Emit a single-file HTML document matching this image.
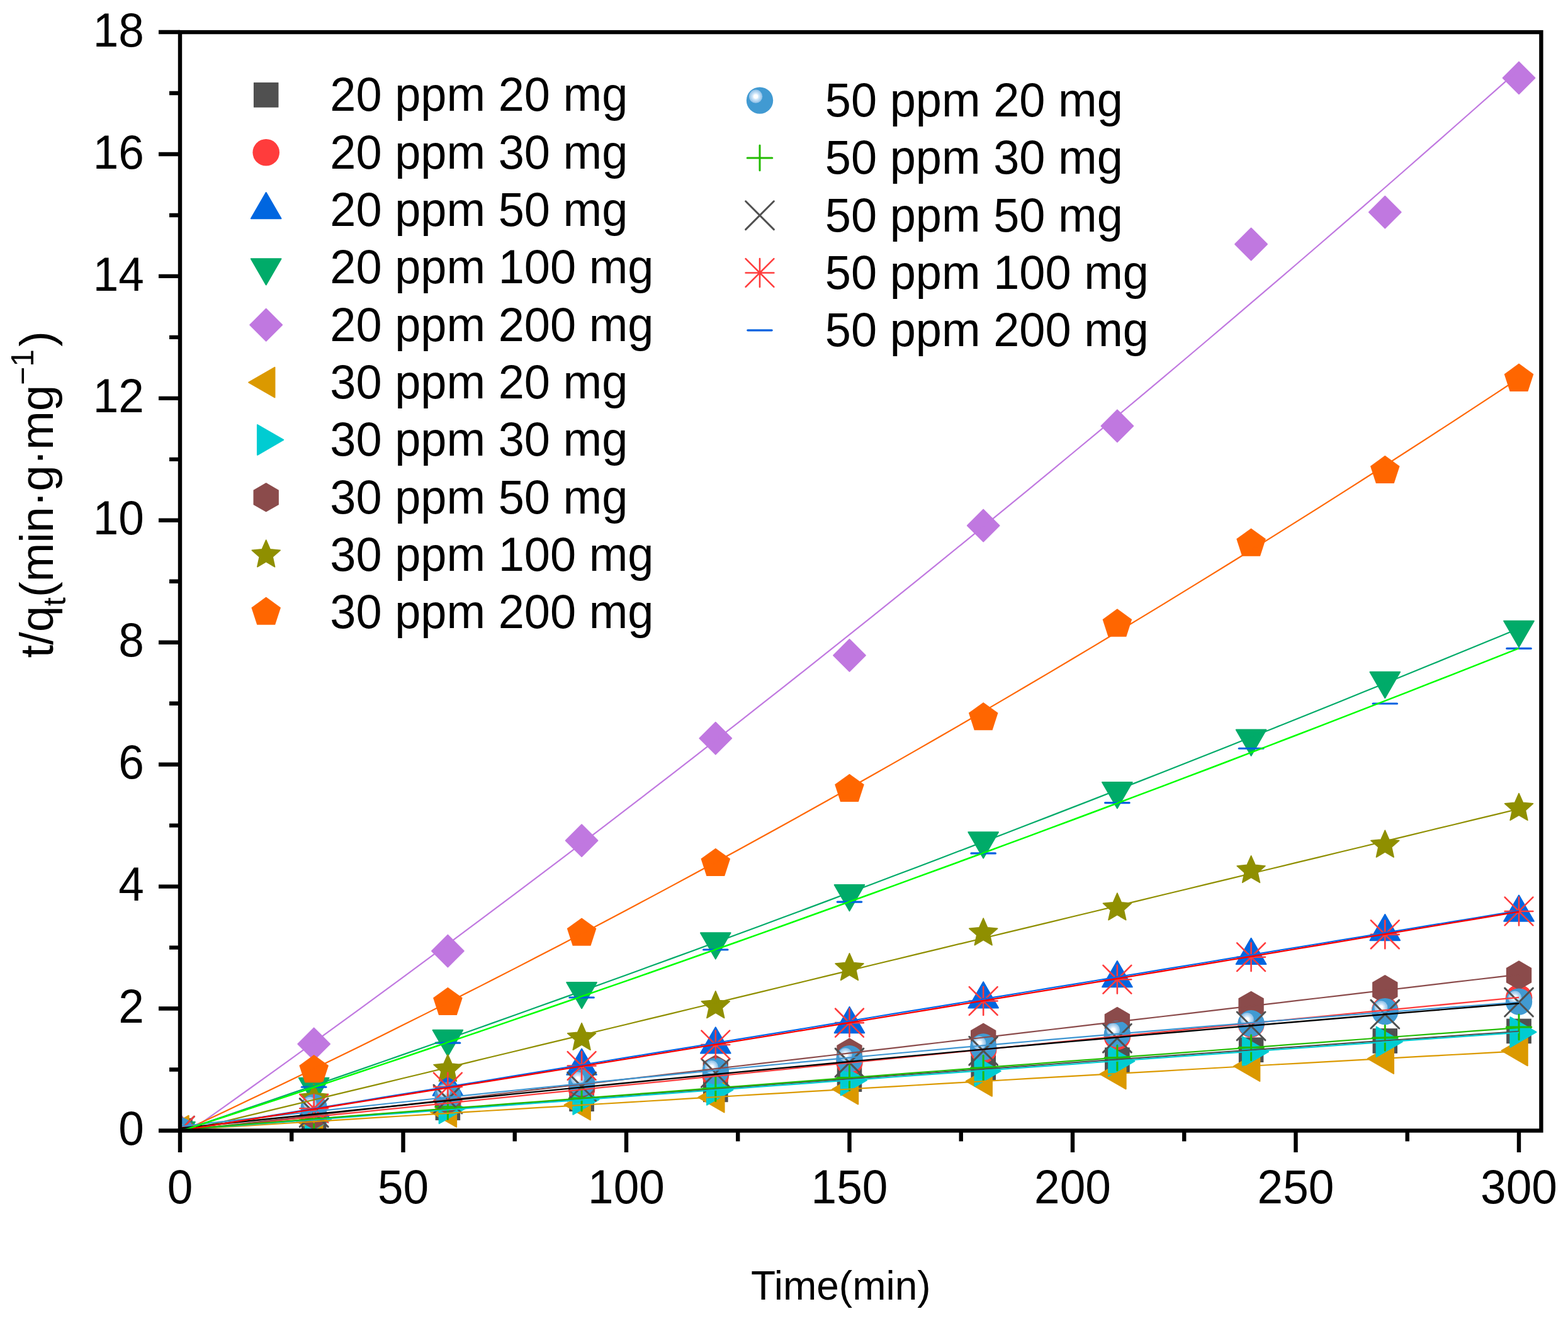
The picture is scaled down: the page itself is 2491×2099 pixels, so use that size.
<!DOCTYPE html>
<html><head><meta charset="utf-8"><title>t/qt vs Time</title>
<style>
html,body{margin:0;padding:0;background:#fff;}
body{width:2491px;height:2099px;overflow:hidden;}
svg{display:block;}
text{font-family:'Liberation Sans', Arial, Helvetica, sans-serif;fill:#000;}
</style></head><body>
<svg width="2491" height="2099" viewBox="0 0 2491 2099">
<defs>
<clipPath id="plot"><rect x="286.0" y="51.1" width="2162.4" height="1745.4"/></clipPath>
<radialGradient id="sph" cx="0.5" cy="0.5" r="0.5" fx="0.35" fy="0.34">
<stop offset="0" stop-color="#FFFFFF"/>
<stop offset="0.07" stop-color="#FFFFFF"/>
<stop offset="0.12" stop-color="#D6E8F6"/>
<stop offset="0.22" stop-color="#B5D5EE"/>
<stop offset="0.30" stop-color="#8EC0E6"/>
<stop offset="0.36" stop-color="#5AA2DA"/>
<stop offset="0.45" stop-color="#4596CF"/>
<stop offset="1" stop-color="#4596CF"/>
</radialGradient>
</defs>
<rect width="2491" height="2099" fill="#fff"/>

<g clip-path="url(#plot)">
<g><rect x="266.75" y="1777.25" width="38.5" height="38.5" fill="#505050" stroke="#474747" stroke-width="1"/><rect x="479.45" y="1757.86" width="38.5" height="38.5" fill="#505050" stroke="#474747" stroke-width="1"/><rect x="692.15" y="1741.08" width="38.5" height="38.5" fill="#505050" stroke="#474747" stroke-width="1"/><rect x="904.85" y="1727.02" width="38.5" height="38.5" fill="#505050" stroke="#474747" stroke-width="1"/><rect x="1117.55" y="1712.18" width="38.5" height="38.5" fill="#505050" stroke="#474747" stroke-width="1"/><rect x="1330.25" y="1695.8" width="38.5" height="38.5" fill="#505050" stroke="#474747" stroke-width="1"/><rect x="1542.95" y="1677.47" width="38.5" height="38.5" fill="#505050" stroke="#474747" stroke-width="1"/><rect x="1755.65" y="1664.96" width="38.5" height="38.5" fill="#505050" stroke="#474747" stroke-width="1"/><rect x="1968.35" y="1648.96" width="38.5" height="38.5" fill="#505050" stroke="#474747" stroke-width="1"/><rect x="2181.05" y="1634.7" width="38.5" height="38.5" fill="#505050" stroke="#474747" stroke-width="1"/><rect x="2393.75" y="1619.19" width="38.5" height="38.5" fill="#505050" stroke="#474747" stroke-width="1"/></g>
<g><circle cx="286" cy="1796.5" r="21.3" fill="#FF3C3C"/><circle cx="498.7" cy="1773.23" r="21.3" fill="#FF3C3C"/><circle cx="711.4" cy="1751.89" r="21.3" fill="#FF3C3C"/><circle cx="924.1" cy="1730.56" r="21.3" fill="#FF3C3C"/><circle cx="1136.8" cy="1709.23" r="21.3" fill="#FF3C3C"/><circle cx="1349.5" cy="1687.89" r="21.3" fill="#FF3C3C"/><circle cx="1562.2" cy="1668.01" r="21.3" fill="#FF3C3C"/><circle cx="1774.9" cy="1647.07" r="21.3" fill="#FF3C3C"/><circle cx="1987.6" cy="1627.29" r="21.3" fill="#FF3C3C"/><circle cx="2200.3" cy="1604.98" r="21.3" fill="#FF3C3C"/><circle cx="2413" cy="1585.59" r="21.3" fill="#FF3C3C"/></g>
<g><polygon points="286,1769 309.82,1810.25 262.18,1810.25" fill="#0066E0" stroke="#0066E0" stroke-width="2.0" stroke-linejoin="round"/><polygon points="498.7,1734.09 522.52,1775.34 474.88,1775.34" fill="#0066E0" stroke="#0066E0" stroke-width="2.0" stroke-linejoin="round"/><polygon points="711.4,1699.38 735.22,1740.63 687.58,1740.63" fill="#0066E0" stroke="#0066E0" stroke-width="2.0" stroke-linejoin="round"/><polygon points="924.1,1666.5 947.92,1707.75 900.28,1707.75" fill="#0066E0" stroke="#0066E0" stroke-width="2.0" stroke-linejoin="round"/><polygon points="1136.8,1632.27 1160.62,1673.52 1112.98,1673.52" fill="#0066E0" stroke="#0066E0" stroke-width="2.0" stroke-linejoin="round"/><polygon points="1349.5,1599.88 1373.32,1641.13 1325.68,1641.13" fill="#0066E0" stroke="#0066E0" stroke-width="2.0" stroke-linejoin="round"/><polygon points="1562.2,1560.22 1586.02,1601.47 1538.38,1601.47" fill="#0066E0" stroke="#0066E0" stroke-width="2.0" stroke-linejoin="round"/><polygon points="1774.9,1527.06 1798.72,1568.31 1751.08,1568.31" fill="#0066E0" stroke="#0066E0" stroke-width="2.0" stroke-linejoin="round"/><polygon points="1987.6,1490.79 2011.42,1532.04 1963.78,1532.04" fill="#0066E0" stroke="#0066E0" stroke-width="2.0" stroke-linejoin="round"/><polygon points="2200.3,1452.97 2224.12,1494.22 2176.48,1494.22" fill="#0066E0" stroke="#0066E0" stroke-width="2.0" stroke-linejoin="round"/><polygon points="2413,1422.62 2436.82,1463.87 2389.18,1463.87" fill="#0066E0" stroke="#0066E0" stroke-width="2.0" stroke-linejoin="round"/></g>
<g><polygon points="286,1824 262.18,1782.75 309.82,1782.75" fill="#00AB69" stroke="#00AB69" stroke-width="2.0" stroke-linejoin="round"/><polygon points="498.7,1754.08 474.88,1712.83 522.52,1712.83" fill="#00AB69" stroke="#00AB69" stroke-width="2.0" stroke-linejoin="round"/><polygon points="711.4,1678.06 687.58,1636.81 735.22,1636.81" fill="#00AB69" stroke="#00AB69" stroke-width="2.0" stroke-linejoin="round"/><polygon points="924.1,1602.23 900.28,1560.98 947.92,1560.98" fill="#00AB69" stroke="#00AB69" stroke-width="2.0" stroke-linejoin="round"/><polygon points="1136.8,1523.59 1112.98,1482.34 1160.62,1482.34" fill="#00AB69" stroke="#00AB69" stroke-width="2.0" stroke-linejoin="round"/><polygon points="1349.5,1447.37 1325.68,1406.12 1373.32,1406.12" fill="#00AB69" stroke="#00AB69" stroke-width="2.0" stroke-linejoin="round"/><polygon points="1562.2,1363.39 1538.38,1322.14 1586.02,1322.14" fill="#00AB69" stroke="#00AB69" stroke-width="2.0" stroke-linejoin="round"/><polygon points="1774.9,1284.17 1751.08,1242.92 1798.72,1242.92" fill="#00AB69" stroke="#00AB69" stroke-width="2.0" stroke-linejoin="round"/><polygon points="1987.6,1200.77 1963.78,1159.52 2011.42,1159.52" fill="#00AB69" stroke="#00AB69" stroke-width="2.0" stroke-linejoin="round"/><polygon points="2200.3,1109.04 2176.48,1067.79 2224.12,1067.79" fill="#00AB69" stroke="#00AB69" stroke-width="2.0" stroke-linejoin="round"/><polygon points="2413,1027.88 2389.18,986.63 2436.82,986.63" fill="#00AB69" stroke="#00AB69" stroke-width="2.0" stroke-linejoin="round"/></g>
<g><polygon points="286,1771 311.5,1796.5 286,1822 260.5,1796.5" fill="#C078E0" stroke="#C078E0" stroke-width="1.8" stroke-linejoin="round"/><polygon points="498.7,1633.3 524.2,1658.8 498.7,1684.3 473.2,1658.8" fill="#C078E0" stroke="#C078E0" stroke-width="1.8" stroke-linejoin="round"/><polygon points="711.4,1485.52 736.9,1511.02 711.4,1536.52 685.9,1511.02" fill="#C078E0" stroke="#C078E0" stroke-width="1.8" stroke-linejoin="round"/><polygon points="924.1,1310.1 949.6,1335.6 924.1,1361.1 898.6,1335.6" fill="#C078E0" stroke="#C078E0" stroke-width="1.8" stroke-linejoin="round"/><polygon points="1136.8,1147.68 1162.3,1173.18 1136.8,1198.68 1111.3,1173.18" fill="#C078E0" stroke="#C078E0" stroke-width="1.8" stroke-linejoin="round"/><polygon points="1349.5,1015.8 1375,1041.3 1349.5,1066.8 1324,1041.3" fill="#C078E0" stroke="#C078E0" stroke-width="1.8" stroke-linejoin="round"/><polygon points="1562.2,809.54 1587.7,835.04 1562.2,860.54 1536.7,835.04" fill="#C078E0" stroke="#C078E0" stroke-width="1.8" stroke-linejoin="round"/><polygon points="1774.9,651.29 1800.4,676.79 1774.9,702.29 1749.4,676.79" fill="#C078E0" stroke="#C078E0" stroke-width="1.8" stroke-linejoin="round"/><polygon points="1987.6,362.51 2013.1,388.01 1987.6,413.51 1962.1,388.01" fill="#C078E0" stroke="#C078E0" stroke-width="1.8" stroke-linejoin="round"/><polygon points="2200.3,311.6 2225.8,337.1 2200.3,362.6 2174.8,337.1" fill="#C078E0" stroke="#C078E0" stroke-width="1.8" stroke-linejoin="round"/><polygon points="2413,98.27 2438.5,123.77 2413,149.27 2387.5,123.77" fill="#C078E0" stroke="#C078E0" stroke-width="1.8" stroke-linejoin="round"/></g>
<g><polygon points="258.5,1796.5 299.75,1772.68 299.75,1820.32" fill="#DB9900" stroke="#DB9900" stroke-width="2.0" stroke-linejoin="round"/><polygon points="471.2,1781.95 512.45,1758.14 512.45,1805.77" fill="#DB9900" stroke="#DB9900" stroke-width="2.0" stroke-linejoin="round"/><polygon points="683.9,1766.92 725.15,1743.11 725.15,1790.74" fill="#DB9900" stroke="#DB9900" stroke-width="2.0" stroke-linejoin="round"/><polygon points="896.6,1755.58 937.85,1731.76 937.85,1779.39" fill="#DB9900" stroke="#DB9900" stroke-width="2.0" stroke-linejoin="round"/><polygon points="1109.3,1743.65 1150.55,1719.84 1150.55,1767.47" fill="#DB9900" stroke="#DB9900" stroke-width="2.0" stroke-linejoin="round"/><polygon points="1322,1730.75 1363.25,1706.94 1363.25,1754.57" fill="#DB9900" stroke="#DB9900" stroke-width="2.0" stroke-linejoin="round"/><polygon points="1534.7,1717.95 1575.95,1694.14 1575.95,1741.77" fill="#DB9900" stroke="#DB9900" stroke-width="2.0" stroke-linejoin="round"/><polygon points="1747.4,1706.51 1788.65,1682.7 1788.65,1730.33" fill="#DB9900" stroke="#DB9900" stroke-width="2.0" stroke-linejoin="round"/><polygon points="1960.1,1694.1 2001.35,1670.28 2001.35,1717.92" fill="#DB9900" stroke="#DB9900" stroke-width="2.0" stroke-linejoin="round"/><polygon points="2172.8,1682.08 2214.05,1658.26 2214.05,1705.89" fill="#DB9900" stroke="#DB9900" stroke-width="2.0" stroke-linejoin="round"/><polygon points="2385.5,1669.47 2426.75,1645.65 2426.75,1693.28" fill="#DB9900" stroke="#DB9900" stroke-width="2.0" stroke-linejoin="round"/></g>
<g><polygon points="313.5,1796.5 272.25,1820.32 272.25,1772.68" fill="#00CCD2" stroke="#00CCD2" stroke-width="2.0" stroke-linejoin="round"/><polygon points="526.2,1779.05 484.95,1802.86 484.95,1755.23" fill="#00CCD2" stroke="#00CCD2" stroke-width="2.0" stroke-linejoin="round"/><polygon points="738.9,1761.3 697.65,1785.12 697.65,1737.48" fill="#00CCD2" stroke="#00CCD2" stroke-width="2.0" stroke-linejoin="round"/><polygon points="951.6,1747.05 910.35,1770.86 910.35,1723.23" fill="#00CCD2" stroke="#00CCD2" stroke-width="2.0" stroke-linejoin="round"/><polygon points="1164.3,1731.92 1123.05,1755.73 1123.05,1708.1" fill="#00CCD2" stroke="#00CCD2" stroke-width="2.0" stroke-linejoin="round"/><polygon points="1377,1716.5 1335.75,1740.32 1335.75,1692.68" fill="#00CCD2" stroke="#00CCD2" stroke-width="2.0" stroke-linejoin="round"/><polygon points="1589.7,1701.95 1548.45,1725.77 1548.45,1678.14" fill="#00CCD2" stroke="#00CCD2" stroke-width="2.0" stroke-linejoin="round"/><polygon points="1802.4,1686.15 1761.15,1709.96 1761.15,1662.33" fill="#00CCD2" stroke="#00CCD2" stroke-width="2.0" stroke-linejoin="round"/><polygon points="2015.1,1671.21 1973.85,1695.03 1973.85,1647.4" fill="#00CCD2" stroke="#00CCD2" stroke-width="2.0" stroke-linejoin="round"/><polygon points="2227.8,1655.31 2186.55,1679.13 2186.55,1631.5" fill="#00CCD2" stroke="#00CCD2" stroke-width="2.0" stroke-linejoin="round"/><polygon points="2440.5,1639.99 2399.25,1663.81 2399.25,1616.17" fill="#00CCD2" stroke="#00CCD2" stroke-width="2.0" stroke-linejoin="round"/></g>
<g><polygon points="286,1773.2 306.18,1784.85 306.18,1808.15 286,1819.8 265.82,1808.15 265.82,1784.85" fill="#8B4B4B"/><polygon points="498.7,1748.47 518.88,1760.12 518.88,1783.42 498.7,1795.07 478.52,1783.42 478.52,1760.12" fill="#8B4B4B"/><polygon points="711.4,1724.72 731.58,1736.37 731.58,1759.67 711.4,1771.32 691.22,1759.67 691.22,1736.37" fill="#8B4B4B"/><polygon points="924.1,1699.99 944.28,1711.64 944.28,1734.94 924.1,1746.59 903.92,1734.94 903.92,1711.64" fill="#8B4B4B"/><polygon points="1136.8,1675.94 1156.98,1687.59 1156.98,1710.89 1136.8,1722.54 1116.62,1710.89 1116.62,1687.59" fill="#8B4B4B"/><polygon points="1349.5,1649.37 1369.68,1661.02 1369.68,1684.32 1349.5,1695.97 1329.32,1684.32 1329.32,1661.02" fill="#8B4B4B"/><polygon points="1562.2,1625.51 1582.38,1637.16 1582.38,1660.46 1562.2,1672.11 1542.02,1660.46 1542.02,1637.16" fill="#8B4B4B"/><polygon points="1774.9,1599.82 1795.08,1611.47 1795.08,1634.77 1774.9,1646.42 1754.72,1634.77 1754.72,1611.47" fill="#8B4B4B"/><polygon points="1987.6,1574.7 2007.78,1586.35 2007.78,1609.65 1987.6,1621.3 1967.42,1609.65 1967.42,1586.35" fill="#8B4B4B"/><polygon points="2200.3,1549.1 2220.48,1560.75 2220.48,1584.05 2200.3,1595.7 2180.12,1584.05 2180.12,1560.75" fill="#8B4B4B"/><polygon points="2413,1526.31 2433.18,1537.96 2433.18,1561.26 2413,1572.91 2392.82,1561.26 2392.82,1537.96" fill="#8B4B4B"/></g>
<g><polygon points="286,1772.9 292.47,1787.6 308.44,1789.21 296.46,1799.9 299.87,1815.59 286,1807.5 272.13,1815.59 275.54,1799.9 263.56,1789.21 279.53,1787.6" fill="#8F8F00" stroke="#8F8F00" stroke-width="1.6" stroke-linejoin="round"/><polygon points="498.7,1722.28 505.17,1736.98 521.14,1738.59 509.16,1749.28 512.57,1764.97 498.7,1756.88 484.83,1764.97 488.24,1749.28 476.26,1738.59 492.23,1736.98" fill="#8F8F00" stroke="#8F8F00" stroke-width="1.6" stroke-linejoin="round"/><polygon points="711.4,1675.45 717.87,1690.15 733.84,1691.75 721.86,1702.44 725.27,1718.14 711.4,1710.05 697.53,1718.14 700.94,1702.44 688.96,1691.75 704.93,1690.15" fill="#8F8F00" stroke="#8F8F00" stroke-width="1.6" stroke-linejoin="round"/><polygon points="924.1,1625.51 930.57,1640.21 946.54,1641.81 934.56,1652.5 937.97,1668.2 924.1,1660.11 910.23,1668.2 913.64,1652.5 901.66,1641.81 917.63,1640.21" fill="#8F8F00" stroke="#8F8F00" stroke-width="1.6" stroke-linejoin="round"/><polygon points="1136.8,1574.79 1143.27,1589.49 1159.24,1591.1 1147.26,1601.79 1150.67,1617.48 1136.8,1609.39 1122.93,1617.48 1126.34,1601.79 1114.36,1591.1 1130.33,1589.49" fill="#8F8F00" stroke="#8F8F00" stroke-width="1.6" stroke-linejoin="round"/><polygon points="1349.5,1514.77 1355.97,1529.47 1371.94,1531.07 1359.96,1541.77 1363.37,1557.46 1349.5,1549.37 1335.63,1557.46 1339.04,1541.77 1327.06,1531.07 1343.03,1529.47" fill="#8F8F00" stroke="#8F8F00" stroke-width="1.6" stroke-linejoin="round"/><polygon points="1562.2,1459.01 1568.67,1473.71 1584.64,1475.32 1572.66,1486.01 1576.07,1501.7 1562.2,1493.61 1548.33,1501.7 1551.74,1486.01 1539.76,1475.32 1555.73,1473.71" fill="#8F8F00" stroke="#8F8F00" stroke-width="1.6" stroke-linejoin="round"/><polygon points="1774.9,1419.06 1781.37,1433.76 1797.34,1435.36 1785.36,1446.06 1788.77,1461.75 1774.9,1453.66 1761.03,1461.75 1764.44,1446.06 1752.46,1435.36 1768.43,1433.76" fill="#8F8F00" stroke="#8F8F00" stroke-width="1.6" stroke-linejoin="round"/><polygon points="1987.6,1359.71 1994.07,1374.41 2010.04,1376.02 1998.06,1386.71 2001.47,1402.4 1987.6,1394.31 1973.73,1402.4 1977.14,1386.71 1965.16,1376.02 1981.13,1374.41" fill="#8F8F00" stroke="#8F8F00" stroke-width="1.6" stroke-linejoin="round"/><polygon points="2200.3,1319.27 2206.77,1333.98 2222.74,1335.58 2210.76,1346.27 2214.17,1361.97 2200.3,1353.87 2186.43,1361.97 2189.84,1346.27 2177.86,1335.58 2193.83,1333.98" fill="#8F8F00" stroke="#8F8F00" stroke-width="1.6" stroke-linejoin="round"/><polygon points="2413,1260.61 2419.47,1275.31 2435.44,1276.91 2423.46,1287.61 2426.87,1303.3 2413,1295.21 2399.13,1303.3 2402.54,1287.61 2390.56,1276.91 2406.53,1275.31" fill="#8F8F00" stroke="#8F8F00" stroke-width="1.6" stroke-linejoin="round"/></g>
<g><polygon points="286,1772 309.3,1788.93 300.4,1816.32 271.6,1816.32 262.7,1788.93" fill="#FF6600"/><polygon points="498.7,1676 522,1692.93 513.1,1720.32 484.3,1720.32 475.4,1692.93" fill="#FF6600"/><polygon points="711.4,1568.65 734.7,1585.58 725.8,1612.97 697,1612.97 688.1,1585.58" fill="#FF6600"/><polygon points="924.1,1458.4 947.4,1475.33 938.5,1502.72 909.7,1502.72 900.8,1475.33" fill="#FF6600"/><polygon points="1136.8,1347.66 1160.1,1364.59 1151.2,1391.98 1122.4,1391.98 1113.5,1364.59" fill="#FF6600"/><polygon points="1349.5,1229.65 1372.8,1246.58 1363.9,1273.97 1335.1,1273.97 1326.2,1246.58" fill="#FF6600"/><polygon points="1562.2,1115.9 1585.5,1132.83 1576.6,1160.22 1547.8,1160.22 1538.9,1132.83" fill="#FF6600"/><polygon points="1774.9,967.34 1798.2,984.27 1789.3,1011.66 1760.5,1011.66 1751.6,984.27" fill="#FF6600"/><polygon points="1987.6,839.44 2010.9,856.37 2002,883.76 1973.2,883.76 1964.3,856.37" fill="#FF6600"/><polygon points="2200.3,723.75 2223.6,740.68 2214.7,768.08 2185.9,768.08 2177,740.68" fill="#FF6600"/><polygon points="2413,577.62 2436.3,594.55 2427.4,621.94 2398.6,621.94 2389.7,594.55" fill="#FF6600"/></g>
<g><g><circle cx="286" cy="1796.5" r="21.2" fill="#419AD2"/><circle cx="279.6" cy="1790.1" r="10.6" fill="#9CC7EA"/><circle cx="279.6" cy="1790.1" r="8.6" fill="#B2D5F1"/><circle cx="279.6" cy="1790.1" r="6.8" fill="#C8E2F8"/><circle cx="279.6" cy="1790.1" r="5.0" fill="#E2F0FB"/><circle cx="279.6" cy="1790.1" r="3.5" fill="#FFFFFF"/></g><g><circle cx="498.7" cy="1759.65" r="21.2" fill="#419AD2"/><circle cx="492.3" cy="1753.25" r="10.6" fill="#9CC7EA"/><circle cx="492.3" cy="1753.25" r="8.6" fill="#B2D5F1"/><circle cx="492.3" cy="1753.25" r="6.8" fill="#C8E2F8"/><circle cx="492.3" cy="1753.25" r="5.0" fill="#E2F0FB"/><circle cx="492.3" cy="1753.25" r="3.5" fill="#FFFFFF"/></g><g><circle cx="711.4" cy="1740.26" r="21.2" fill="#419AD2"/><circle cx="705" cy="1733.86" r="10.6" fill="#9CC7EA"/><circle cx="705" cy="1733.86" r="8.6" fill="#B2D5F1"/><circle cx="705" cy="1733.86" r="6.8" fill="#C8E2F8"/><circle cx="705" cy="1733.86" r="5.0" fill="#E2F0FB"/><circle cx="705" cy="1733.86" r="3.5" fill="#FFFFFF"/></g><g><circle cx="924.1" cy="1720.28" r="21.2" fill="#419AD2"/><circle cx="917.7" cy="1713.88" r="10.6" fill="#9CC7EA"/><circle cx="917.7" cy="1713.88" r="8.6" fill="#B2D5F1"/><circle cx="917.7" cy="1713.88" r="6.8" fill="#C8E2F8"/><circle cx="917.7" cy="1713.88" r="5.0" fill="#E2F0FB"/><circle cx="917.7" cy="1713.88" r="3.5" fill="#FFFFFF"/></g><g><circle cx="1136.8" cy="1701.95" r="21.2" fill="#419AD2"/><circle cx="1130.4" cy="1695.55" r="10.6" fill="#9CC7EA"/><circle cx="1130.4" cy="1695.55" r="8.6" fill="#B2D5F1"/><circle cx="1130.4" cy="1695.55" r="6.8" fill="#C8E2F8"/><circle cx="1130.4" cy="1695.55" r="5.0" fill="#E2F0FB"/><circle cx="1130.4" cy="1695.55" r="3.5" fill="#FFFFFF"/></g><g><circle cx="1349.5" cy="1682.27" r="21.2" fill="#419AD2"/><circle cx="1343.1" cy="1675.87" r="10.6" fill="#9CC7EA"/><circle cx="1343.1" cy="1675.87" r="8.6" fill="#B2D5F1"/><circle cx="1343.1" cy="1675.87" r="6.8" fill="#C8E2F8"/><circle cx="1343.1" cy="1675.87" r="5.0" fill="#E2F0FB"/><circle cx="1343.1" cy="1675.87" r="3.5" fill="#FFFFFF"/></g><g><circle cx="1562.2" cy="1663.55" r="21.2" fill="#419AD2"/><circle cx="1555.8" cy="1657.15" r="10.6" fill="#9CC7EA"/><circle cx="1555.8" cy="1657.15" r="8.6" fill="#B2D5F1"/><circle cx="1555.8" cy="1657.15" r="6.8" fill="#C8E2F8"/><circle cx="1555.8" cy="1657.15" r="5.0" fill="#E2F0FB"/><circle cx="1555.8" cy="1657.15" r="3.5" fill="#FFFFFF"/></g><g><circle cx="1774.9" cy="1643" r="21.2" fill="#419AD2"/><circle cx="1768.5" cy="1636.6" r="10.6" fill="#9CC7EA"/><circle cx="1768.5" cy="1636.6" r="8.6" fill="#B2D5F1"/><circle cx="1768.5" cy="1636.6" r="6.8" fill="#C8E2F8"/><circle cx="1768.5" cy="1636.6" r="5.0" fill="#E2F0FB"/><circle cx="1768.5" cy="1636.6" r="3.5" fill="#FFFFFF"/></g><g><circle cx="1987.6" cy="1626.22" r="21.2" fill="#419AD2"/><circle cx="1981.2" cy="1619.82" r="10.6" fill="#9CC7EA"/><circle cx="1981.2" cy="1619.82" r="8.6" fill="#B2D5F1"/><circle cx="1981.2" cy="1619.82" r="6.8" fill="#C8E2F8"/><circle cx="1981.2" cy="1619.82" r="5.0" fill="#E2F0FB"/><circle cx="1981.2" cy="1619.82" r="3.5" fill="#FFFFFF"/></g><g><circle cx="2200.3" cy="1607.21" r="21.2" fill="#419AD2"/><circle cx="2193.9" cy="1600.81" r="10.6" fill="#9CC7EA"/><circle cx="2193.9" cy="1600.81" r="8.6" fill="#B2D5F1"/><circle cx="2193.9" cy="1600.81" r="6.8" fill="#C8E2F8"/><circle cx="2193.9" cy="1600.81" r="5.0" fill="#E2F0FB"/><circle cx="2193.9" cy="1600.81" r="3.5" fill="#FFFFFF"/></g><g><circle cx="2413" cy="1591.6" r="21.2" fill="#419AD2"/><circle cx="2406.6" cy="1585.2" r="10.6" fill="#9CC7EA"/><circle cx="2406.6" cy="1585.2" r="8.6" fill="#B2D5F1"/><circle cx="2406.6" cy="1585.2" r="6.8" fill="#C8E2F8"/><circle cx="2406.6" cy="1585.2" r="5.0" fill="#E2F0FB"/><circle cx="2406.6" cy="1585.2" r="3.5" fill="#FFFFFF"/></g></g>
<g><path d="M266.2 1796.5H305.8M286 1776.7V1816.3" stroke="#22BB00" stroke-width="3" stroke-linecap="round" fill="none"/><path d="M478.9 1777.11H518.5M498.7 1757.31V1796.91" stroke="#22BB00" stroke-width="3" stroke-linecap="round" fill="none"/><path d="M691.6 1758.78H731.2M711.4 1738.98V1778.58" stroke="#22BB00" stroke-width="3" stroke-linecap="round" fill="none"/><path d="M904.3 1745.11H943.9M924.1 1725.31V1764.91" stroke="#22BB00" stroke-width="3" stroke-linecap="round" fill="none"/><path d="M1117 1729.59H1156.6M1136.8 1709.79V1749.39" stroke="#22BB00" stroke-width="3" stroke-linecap="round" fill="none"/><path d="M1329.7 1712.43H1369.3M1349.5 1692.63V1732.23" stroke="#22BB00" stroke-width="3" stroke-linecap="round" fill="none"/><path d="M1542.4 1697.01H1582M1562.2 1677.21V1716.81" stroke="#22BB00" stroke-width="3" stroke-linecap="round" fill="none"/><path d="M1755.1 1680.72H1794.7M1774.9 1660.92V1700.52" stroke="#22BB00" stroke-width="3" stroke-linecap="round" fill="none"/><path d="M1967.8 1664.62H2007.4M1987.6 1644.82V1684.42" stroke="#22BB00" stroke-width="3" stroke-linecap="round" fill="none"/><path d="M2180.5 1649.11H2220.1M2200.3 1629.31V1668.91" stroke="#22BB00" stroke-width="3" stroke-linecap="round" fill="none"/><path d="M2393.2 1632.04H2432.8M2413 1612.24V1651.84" stroke="#22BB00" stroke-width="3" stroke-linecap="round" fill="none"/></g>
<g><path d="M263.6 1774.1L308.4 1818.9M263.6 1818.9L308.4 1774.1" stroke="#505050" stroke-width="3" stroke-linecap="round" fill="none"/><path d="M476.3 1745.59L521.1 1790.39M476.3 1790.39L521.1 1745.59" stroke="#505050" stroke-width="3" stroke-linecap="round" fill="none"/><path d="M689 1724.16L733.8 1768.96M689 1768.96L733.8 1724.16" stroke="#505050" stroke-width="3" stroke-linecap="round" fill="none"/><path d="M901.7 1704.18L946.5 1748.98M901.7 1748.98L946.5 1704.18" stroke="#505050" stroke-width="3" stroke-linecap="round" fill="none"/><path d="M1114.4 1682.46L1159.2 1727.26M1114.4 1727.26L1159.2 1682.46" stroke="#505050" stroke-width="3" stroke-linecap="round" fill="none"/><path d="M1327.1 1666.08L1371.9 1710.88M1327.1 1710.88L1371.9 1666.08" stroke="#505050" stroke-width="3" stroke-linecap="round" fill="none"/><path d="M1539.8 1647.36L1584.6 1692.16M1539.8 1692.16L1584.6 1647.36" stroke="#505050" stroke-width="3" stroke-linecap="round" fill="none"/><path d="M1752.5 1627.29L1797.3 1672.09M1752.5 1672.09L1797.3 1627.29" stroke="#505050" stroke-width="3" stroke-linecap="round" fill="none"/><path d="M1965.2 1607.99L2010 1652.79M1965.2 1652.79L2010 1607.99" stroke="#505050" stroke-width="3" stroke-linecap="round" fill="none"/><path d="M2177.9 1589.18L2222.7 1633.98M2177.9 1633.98L2222.7 1589.18" stroke="#505050" stroke-width="3" stroke-linecap="round" fill="none"/><path d="M2390.6 1570.17L2435.4 1614.97M2390.6 1614.97L2435.4 1570.17" stroke="#505050" stroke-width="3" stroke-linecap="round" fill="none"/></g>
<g><path d="M263.6 1774.1L308.4 1818.9M263.6 1818.9L308.4 1774.1M263.6 1796.5H308.4M286 1774.1V1818.9" stroke="#FF3C3C" stroke-width="2.6" stroke-linecap="round" fill="none"/><path d="M476.3 1738.9L521.1 1783.7M476.3 1783.7L521.1 1738.9M476.3 1761.3H521.1M498.7 1738.9V1783.7" stroke="#FF3C3C" stroke-width="2.6" stroke-linecap="round" fill="none"/><path d="M689 1704.67L733.8 1749.47M689 1749.47L733.8 1704.67M689 1727.07H733.8M711.4 1704.67V1749.47" stroke="#FF3C3C" stroke-width="2.6" stroke-linecap="round" fill="none"/><path d="M901.7 1671.12L946.5 1715.92M901.7 1715.92L946.5 1671.12M901.7 1693.52H946.5M924.1 1671.12V1715.92" stroke="#FF3C3C" stroke-width="2.6" stroke-linecap="round" fill="none"/><path d="M1114.4 1637.57L1159.2 1682.37M1114.4 1682.37L1159.2 1637.57M1114.4 1659.97H1159.2M1136.8 1637.57V1682.37" stroke="#FF3C3C" stroke-width="2.6" stroke-linecap="round" fill="none"/><path d="M1327.1 1602.75L1371.9 1647.55M1327.1 1647.55L1371.9 1602.75M1327.1 1625.15H1371.9M1349.5 1602.75V1647.55" stroke="#FF3C3C" stroke-width="2.6" stroke-linecap="round" fill="none"/><path d="M1539.8 1568.14L1584.6 1612.94M1539.8 1612.94L1584.6 1568.14M1539.8 1590.54H1584.6M1562.2 1568.14V1612.94" stroke="#FF3C3C" stroke-width="2.6" stroke-linecap="round" fill="none"/><path d="M1752.5 1533.81L1797.3 1578.61M1752.5 1578.61L1797.3 1533.81M1752.5 1556.21H1797.3M1774.9 1533.81V1578.61" stroke="#FF3C3C" stroke-width="2.6" stroke-linecap="round" fill="none"/><path d="M1965.2 1498.32L2010 1543.12M1965.2 1543.12L2010 1498.32M1965.2 1520.72H2010M1987.6 1498.32V1543.12" stroke="#FF3C3C" stroke-width="2.6" stroke-linecap="round" fill="none"/><path d="M2177.9 1462.44L2222.7 1507.24M2177.9 1507.24L2222.7 1462.44M2177.9 1484.84H2222.7M2200.3 1462.44V1507.24" stroke="#FF3C3C" stroke-width="2.6" stroke-linecap="round" fill="none"/><path d="M2390.6 1425.59L2435.4 1470.39M2390.6 1470.39L2435.4 1425.59M2390.6 1447.99H2435.4M2413 1425.59V1470.39" stroke="#FF3C3C" stroke-width="2.6" stroke-linecap="round" fill="none"/></g>
<g><path d="M266.8 1796.5H305.2" stroke="#0060E0" stroke-width="3.2" stroke-linecap="round" fill="none"/><path d="M479.5 1727.26H517.9" stroke="#0060E0" stroke-width="3.2" stroke-linecap="round" fill="none"/><path d="M692.2 1657.15H730.6" stroke="#0060E0" stroke-width="3.2" stroke-linecap="round" fill="none"/><path d="M904.9 1585.01H943.3" stroke="#0060E0" stroke-width="3.2" stroke-linecap="round" fill="none"/><path d="M1117.6 1508.98H1156" stroke="#0060E0" stroke-width="3.2" stroke-linecap="round" fill="none"/><path d="M1330.3 1433.06H1368.7" stroke="#0060E0" stroke-width="3.2" stroke-linecap="round" fill="none"/><path d="M1543 1355.97H1581.4" stroke="#0060E0" stroke-width="3.2" stroke-linecap="round" fill="none"/><path d="M1755.7 1275.58H1794.1" stroke="#0060E0" stroke-width="3.2" stroke-linecap="round" fill="none"/><path d="M1968.4 1189.27H2006.8" stroke="#0060E0" stroke-width="3.2" stroke-linecap="round" fill="none"/><path d="M2181.1 1118H2219.5" stroke="#0060E0" stroke-width="3.2" stroke-linecap="round" fill="none"/><path d="M2393.8 1030.44H2432.2" stroke="#0060E0" stroke-width="3.2" stroke-linecap="round" fill="none"/></g>
<path d="M286 1795.05 L321.45 1792.27 L356.9 1789.49 L392.35 1786.72 L427.8 1783.95 L463.25 1781.19 L498.7 1778.43 L534.15 1775.69 L569.6 1772.94 L605.05 1770.21 L640.5 1767.48 L675.95 1764.76 L711.4 1762.04 L746.85 1759.33 L782.3 1756.62 L817.75 1753.92 L853.2 1751.23 L888.65 1748.54 L924.1 1745.86 L959.55 1743.19 L995 1740.52 L1030.45 1737.86 L1065.9 1735.21 L1101.35 1732.56 L1136.8 1729.91 L1172.25 1727.28 L1207.7 1724.64 L1243.15 1722.02 L1278.6 1719.4 L1314.05 1716.79 L1349.5 1714.18 L1384.95 1711.58 L1420.4 1708.99 L1455.85 1706.4 L1491.3 1703.82 L1526.75 1701.24 L1562.2 1698.67 L1597.65 1696.11 L1633.1 1693.55 L1668.55 1691 L1704 1688.46 L1739.45 1685.92 L1774.9 1683.39 L1810.35 1680.86 L1845.8 1678.34 L1881.25 1675.83 L1916.7 1673.32 L1952.15 1670.82 L1987.6 1668.32 L2023.05 1665.83 L2058.5 1663.35 L2093.95 1660.87 L2129.4 1658.4 L2164.85 1655.94 L2200.3 1653.48 L2235.75 1651.03 L2271.2 1648.58 L2306.65 1646.14 L2342.1 1643.71 L2377.55 1641.28 L2413 1638.86" stroke="#505050" stroke-width="2.2" fill="none" stroke-linejoin="round"/>
<path d="M286 1796.35 L321.45 1792.7 L356.9 1789.06 L392.35 1785.41 L427.8 1781.78 L463.25 1778.14 L498.7 1774.51 L534.15 1770.89 L569.6 1767.27 L605.05 1763.65 L640.5 1760.04 L675.95 1756.43 L711.4 1752.83 L746.85 1749.23 L782.3 1745.63 L817.75 1742.04 L853.2 1738.45 L888.65 1734.87 L924.1 1731.29 L959.55 1727.72 L995 1724.15 L1030.45 1720.58 L1065.9 1717.02 L1101.35 1713.46 L1136.8 1709.91 L1172.25 1706.36 L1207.7 1702.81 L1243.15 1699.27 L1278.6 1695.73 L1314.05 1692.2 L1349.5 1688.67 L1384.95 1685.15 L1420.4 1681.63 L1455.85 1678.11 L1491.3 1674.6 L1526.75 1671.09 L1562.2 1667.59 L1597.65 1664.09 L1633.1 1660.6 L1668.55 1657.11 L1704 1653.62 L1739.45 1650.14 L1774.9 1646.66 L1810.35 1643.19 L1845.8 1639.72 L1881.25 1636.25 L1916.7 1632.79 L1952.15 1629.33 L1987.6 1625.88 L2023.05 1622.43 L2058.5 1618.99 L2093.95 1615.55 L2129.4 1612.11 L2164.85 1608.68 L2200.3 1605.25 L2235.75 1601.83 L2271.2 1598.41 L2306.65 1594.99 L2342.1 1591.58 L2377.55 1588.18 L2413 1584.78" stroke="#FF3C3C" stroke-width="2.3" fill="none" stroke-linejoin="round"/>
<path d="M286 1796.21 L321.45 1790.44 L356.9 1784.67 L392.35 1778.89 L427.8 1773.11 L463.25 1767.34 L498.7 1761.56 L534.15 1755.77 L569.6 1749.99 L605.05 1744.21 L640.5 1738.42 L675.95 1732.63 L711.4 1726.84 L746.85 1721.05 L782.3 1715.26 L817.75 1709.46 L853.2 1703.66 L888.65 1697.87 L924.1 1692.07 L959.55 1686.26 L995 1680.46 L1030.45 1674.66 L1065.9 1668.85 L1101.35 1663.04 L1136.8 1657.23 L1172.25 1651.42 L1207.7 1645.61 L1243.15 1639.79 L1278.6 1633.98 L1314.05 1628.16 L1349.5 1622.34 L1384.95 1616.52 L1420.4 1610.7 L1455.85 1604.87 L1491.3 1599.05 L1526.75 1593.22 L1562.2 1587.39 L1597.65 1581.56 L1633.1 1575.73 L1668.55 1569.89 L1704 1564.06 L1739.45 1558.22 L1774.9 1552.38 L1810.35 1546.54 L1845.8 1540.7 L1881.25 1534.85 L1916.7 1529.01 L1952.15 1523.16 L1987.6 1517.31 L2023.05 1511.46 L2058.5 1505.61 L2093.95 1499.75 L2129.4 1493.9 L2164.85 1488.04 L2200.3 1482.18 L2235.75 1476.32 L2271.2 1470.46 L2306.65 1464.59 L2342.1 1458.73 L2377.55 1452.86 L2413 1446.99" stroke="#0066E8" stroke-width="2.2" fill="none" stroke-linejoin="round"/>
<path d="M286 1797.51 L321.45 1785.52 L356.9 1773.49 L392.35 1761.41 L427.8 1749.29 L463.25 1737.13 L498.7 1724.92 L534.15 1712.66 L569.6 1700.36 L605.05 1688.01 L640.5 1675.62 L675.95 1663.18 L711.4 1650.7 L746.85 1638.17 L782.3 1625.6 L817.75 1612.98 L853.2 1600.32 L888.65 1587.61 L924.1 1574.86 L959.55 1562.06 L995 1549.22 L1030.45 1536.33 L1065.9 1523.4 L1101.35 1510.42 L1136.8 1497.4 L1172.25 1484.33 L1207.7 1471.22 L1243.15 1458.06 L1278.6 1444.85 L1314.05 1431.6 L1349.5 1418.31 L1384.95 1404.97 L1420.4 1391.59 L1455.85 1378.16 L1491.3 1364.68 L1526.75 1351.16 L1562.2 1337.6 L1597.65 1323.99 L1633.1 1310.33 L1668.55 1296.63 L1704 1282.89 L1739.45 1269.1 L1774.9 1255.26 L1810.35 1241.38 L1845.8 1227.46 L1881.25 1213.49 L1916.7 1199.47 L1952.15 1185.41 L1987.6 1171.3 L2023.05 1157.15 L2058.5 1142.95 L2093.95 1128.71 L2129.4 1114.43 L2164.85 1100.09 L2200.3 1085.72 L2235.75 1071.3 L2271.2 1056.83 L2306.65 1042.32 L2342.1 1027.76 L2377.55 1013.16 L2413 998.51" stroke="#00AB69" stroke-width="2.2" fill="none" stroke-linejoin="round"/>
<path d="M286 1808.32 L321.45 1783.23 L356.9 1758.04 L392.35 1732.74 L427.8 1707.32 L463.25 1681.8 L498.7 1656.17 L534.15 1630.44 L569.6 1604.59 L605.05 1578.63 L640.5 1552.57 L675.95 1526.39 L711.4 1500.11 L746.85 1473.72 L782.3 1447.22 L817.75 1420.61 L853.2 1393.89 L888.65 1367.07 L924.1 1340.13 L959.55 1313.09 L995 1285.94 L1030.45 1258.67 L1065.9 1231.3 L1101.35 1203.82 L1136.8 1176.23 L1172.25 1148.54 L1207.7 1120.73 L1243.15 1092.82 L1278.6 1064.79 L1314.05 1036.66 L1349.5 1008.42 L1384.95 980.07 L1420.4 951.61 L1455.85 923.04 L1491.3 894.36 L1526.75 865.58 L1562.2 836.68 L1597.65 807.68 L1633.1 778.57 L1668.55 749.35 L1704 720.02 L1739.45 690.58 L1774.9 661.03 L1810.35 631.38 L1845.8 601.61 L1881.25 571.74 L1916.7 541.75 L1952.15 511.66 L1987.6 481.46 L2023.05 451.15 L2058.5 420.73 L2093.95 390.21 L2129.4 359.57 L2164.85 328.83 L2200.3 297.97 L2235.75 267.01 L2271.2 235.94 L2306.65 204.76 L2342.1 173.47 L2377.55 142.07 L2413 110.57" stroke="#C078E0" stroke-width="2.2" fill="none" stroke-linejoin="round"/>
<path d="M286 1795.36 L321.45 1793.13 L356.9 1790.9 L392.35 1788.67 L427.8 1786.45 L463.25 1784.24 L498.7 1782.03 L534.15 1779.82 L569.6 1777.62 L605.05 1775.42 L640.5 1773.23 L675.95 1771.05 L711.4 1768.87 L746.85 1766.69 L782.3 1764.52 L817.75 1762.36 L853.2 1760.2 L888.65 1758.05 L924.1 1755.9 L959.55 1753.75 L995 1751.61 L1030.45 1749.48 L1065.9 1747.35 L1101.35 1745.22 L1136.8 1743.1 L1172.25 1740.99 L1207.7 1738.88 L1243.15 1736.78 L1278.6 1734.68 L1314.05 1732.58 L1349.5 1730.5 L1384.95 1728.41 L1420.4 1726.33 L1455.85 1724.26 L1491.3 1722.19 L1526.75 1720.13 L1562.2 1718.07 L1597.65 1716.02 L1633.1 1713.97 L1668.55 1711.92 L1704 1709.89 L1739.45 1707.85 L1774.9 1705.82 L1810.35 1703.8 L1845.8 1701.78 L1881.25 1699.77 L1916.7 1697.76 L1952.15 1695.76 L1987.6 1693.76 L2023.05 1691.77 L2058.5 1689.78 L2093.95 1687.8 L2129.4 1685.82 L2164.85 1683.85 L2200.3 1681.88 L2235.75 1679.92 L2271.2 1677.96 L2306.65 1676.01 L2342.1 1674.06 L2377.55 1672.12 L2413 1670.18" stroke="#DB9900" stroke-width="2.2" fill="none" stroke-linejoin="round"/>
<path d="M286 1795.15 L321.45 1792.48 L356.9 1789.81 L392.35 1787.14 L427.8 1784.48 L463.25 1781.81 L498.7 1779.16 L534.15 1776.5 L569.6 1773.85 L605.05 1771.2 L640.5 1768.56 L675.95 1765.92 L711.4 1763.28 L746.85 1760.65 L782.3 1758.02 L817.75 1755.39 L853.2 1752.77 L888.65 1750.15 L924.1 1747.53 L959.55 1744.92 L995 1742.31 L1030.45 1739.7 L1065.9 1737.1 L1101.35 1734.5 L1136.8 1731.9 L1172.25 1729.3 L1207.7 1726.71 L1243.15 1724.13 L1278.6 1721.54 L1314.05 1718.96 L1349.5 1716.39 L1384.95 1713.81 L1420.4 1711.24 L1455.85 1708.68 L1491.3 1706.11 L1526.75 1703.55 L1562.2 1701 L1597.65 1698.45 L1633.1 1695.9 L1668.55 1693.35 L1704 1690.81 L1739.45 1688.27 L1774.9 1685.73 L1810.35 1683.2 L1845.8 1680.67 L1881.25 1678.14 L1916.7 1675.62 L1952.15 1673.1 L1987.6 1670.58 L2023.05 1668.07 L2058.5 1665.56 L2093.95 1663.05 L2129.4 1660.55 L2164.85 1658.05 L2200.3 1655.56 L2235.75 1653.06 L2271.2 1650.58 L2306.65 1648.09 L2342.1 1645.61 L2377.55 1643.13 L2413 1640.65" stroke="#00CCD2" stroke-width="2.2" fill="none" stroke-linejoin="round"/>
<path d="M286 1796.78 L321.45 1792.69 L356.9 1788.6 L392.35 1784.51 L427.8 1780.42 L463.25 1776.32 L498.7 1772.22 L534.15 1768.12 L569.6 1764.02 L605.05 1759.92 L640.5 1755.81 L675.95 1751.71 L711.4 1747.6 L746.85 1743.49 L782.3 1739.38 L817.75 1735.26 L853.2 1731.15 L888.65 1727.03 L924.1 1722.91 L959.55 1718.79 L995 1714.67 L1030.45 1710.55 L1065.9 1706.42 L1101.35 1702.29 L1136.8 1698.16 L1172.25 1694.03 L1207.7 1689.9 L1243.15 1685.77 L1278.6 1681.63 L1314.05 1677.49 L1349.5 1673.35 L1384.95 1669.21 L1420.4 1665.07 L1455.85 1660.92 L1491.3 1656.78 L1526.75 1652.63 L1562.2 1648.48 L1597.65 1644.33 L1633.1 1640.17 L1668.55 1636.02 L1704 1631.86 L1739.45 1627.7 L1774.9 1623.54 L1810.35 1619.38 L1845.8 1615.22 L1881.25 1611.05 L1916.7 1606.88 L1952.15 1602.71 L1987.6 1598.54 L2023.05 1594.37 L2058.5 1590.2 L2093.95 1586.02 L2129.4 1581.84 L2164.85 1577.66 L2200.3 1573.48 L2235.75 1569.3 L2271.2 1565.11 L2306.65 1560.93 L2342.1 1556.74 L2377.55 1552.55 L2413 1548.36" stroke="#8B4B4B" stroke-width="2.2" fill="none" stroke-linejoin="round"/>
<path d="M286 1798.83 L321.45 1790.28 L356.9 1781.72 L392.35 1773.17 L427.8 1764.61 L463.25 1756.06 L498.7 1747.5 L534.15 1738.94 L569.6 1730.39 L605.05 1721.83 L640.5 1713.28 L675.95 1704.72 L711.4 1696.16 L746.85 1687.61 L782.3 1679.05 L817.75 1670.49 L853.2 1661.93 L888.65 1653.38 L924.1 1644.82 L959.55 1636.26 L995 1627.7 L1030.45 1619.14 L1065.9 1610.59 L1101.35 1602.03 L1136.8 1593.47 L1172.25 1584.91 L1207.7 1576.35 L1243.15 1567.79 L1278.6 1559.23 L1314.05 1550.67 L1349.5 1542.11 L1384.95 1533.55 L1420.4 1524.99 L1455.85 1516.43 L1491.3 1507.87 L1526.75 1499.31 L1562.2 1490.75 L1597.65 1482.19 L1633.1 1473.63 L1668.55 1465.07 L1704 1456.51 L1739.45 1447.95 L1774.9 1439.39 L1810.35 1430.83 L1845.8 1422.26 L1881.25 1413.7 L1916.7 1405.14 L1952.15 1396.58 L1987.6 1388.01 L2023.05 1379.45 L2058.5 1370.89 L2093.95 1362.33 L2129.4 1353.76 L2164.85 1345.2 L2200.3 1336.64 L2235.75 1328.07 L2271.2 1319.51 L2306.65 1310.95 L2342.1 1302.38 L2377.55 1293.82 L2413 1285.25" stroke="#8F8F00" stroke-width="2.2" fill="none" stroke-linejoin="round"/>
<path d="M286 1799.38 L321.45 1782.83 L356.9 1766.15 L392.35 1749.36 L427.8 1732.46 L463.25 1715.44 L498.7 1698.3 L534.15 1681.05 L569.6 1663.68 L605.05 1646.2 L640.5 1628.6 L675.95 1610.88 L711.4 1593.05 L746.85 1575.1 L782.3 1557.04 L817.75 1538.86 L853.2 1520.57 L888.65 1502.16 L924.1 1483.63 L959.55 1464.99 L995 1446.23 L1030.45 1427.36 L1065.9 1408.37 L1101.35 1389.27 L1136.8 1370.04 L1172.25 1350.71 L1207.7 1331.26 L1243.15 1311.69 L1278.6 1292 L1314.05 1272.2 L1349.5 1252.29 L1384.95 1232.26 L1420.4 1212.11 L1455.85 1191.85 L1491.3 1171.47 L1526.75 1150.97 L1562.2 1130.36 L1597.65 1109.64 L1633.1 1088.8 L1668.55 1067.84 L1704 1046.77 L1739.45 1025.58 L1774.9 1004.27 L1810.35 982.85 L1845.8 961.32 L1881.25 939.66 L1916.7 917.89 L1952.15 896.01 L1987.6 874.01 L2023.05 851.9 L2058.5 829.66 L2093.95 807.32 L2129.4 784.86 L2164.85 762.28 L2200.3 739.58 L2235.75 716.77 L2271.2 693.85 L2306.65 670.8 L2342.1 647.65 L2377.55 624.37 L2413 600.98" stroke="#FF6600" stroke-width="2.2" fill="none" stroke-linejoin="round"/>
<path d="M286 1789.75 L321.45 1785.76 L356.9 1781.81 L392.35 1777.87 L427.8 1773.96 L463.25 1770.07 L498.7 1766.2 L534.15 1762.36 L569.6 1758.55 L605.05 1754.75 L640.5 1750.98 L675.95 1747.23 L711.4 1743.51 L746.85 1739.81 L782.3 1736.14 L817.75 1732.48 L853.2 1728.85 L888.65 1725.25 L924.1 1721.67 L959.55 1718.11 L995 1714.57 L1030.45 1711.06 L1065.9 1707.58 L1101.35 1704.11 L1136.8 1700.67 L1172.25 1697.26 L1207.7 1693.86 L1243.15 1690.49 L1278.6 1687.15 L1314.05 1683.83 L1349.5 1680.53 L1384.95 1677.25 L1420.4 1674 L1455.85 1670.77 L1491.3 1667.57 L1526.75 1664.39 L1562.2 1661.23 L1597.65 1658.1 L1633.1 1654.99 L1668.55 1651.9 L1704 1648.84 L1739.45 1645.8 L1774.9 1642.78 L1810.35 1639.79 L1845.8 1636.82 L1881.25 1633.88 L1916.7 1630.96 L1952.15 1628.06 L1987.6 1625.19 L2023.05 1622.33 L2058.5 1619.51 L2093.95 1616.7 L2129.4 1613.92 L2164.85 1611.17 L2200.3 1608.44 L2235.75 1605.73 L2271.2 1603.04 L2306.65 1600.38 L2342.1 1597.74 L2377.55 1595.13 L2413 1592.54" stroke="#3D95D2" stroke-width="2.2" fill="none" stroke-linejoin="round"/>
<path d="M286 1794.58 L321.45 1791.81 L356.9 1789.03 L392.35 1786.26 L427.8 1783.49 L463.25 1780.73 L498.7 1777.96 L534.15 1775.2 L569.6 1772.45 L605.05 1769.69 L640.5 1766.94 L675.95 1764.19 L711.4 1761.44 L746.85 1758.7 L782.3 1755.96 L817.75 1753.22 L853.2 1750.49 L888.65 1747.76 L924.1 1745.03 L959.55 1742.3 L995 1739.58 L1030.45 1736.86 L1065.9 1734.14 L1101.35 1731.42 L1136.8 1728.71 L1172.25 1726 L1207.7 1723.29 L1243.15 1720.59 L1278.6 1717.89 L1314.05 1715.19 L1349.5 1712.49 L1384.95 1709.8 L1420.4 1707.11 L1455.85 1704.43 L1491.3 1701.74 L1526.75 1699.06 L1562.2 1696.38 L1597.65 1693.7 L1633.1 1691.03 L1668.55 1688.36 L1704 1685.69 L1739.45 1683.03 L1774.9 1680.37 L1810.35 1677.71 L1845.8 1675.05 L1881.25 1672.4 L1916.7 1669.75 L1952.15 1667.1 L1987.6 1664.45 L2023.05 1661.81 L2058.5 1659.17 L2093.95 1656.54 L2129.4 1653.9 L2164.85 1651.27 L2200.3 1648.64 L2235.75 1646.02 L2271.2 1643.4 L2306.65 1640.78 L2342.1 1638.16 L2377.55 1635.54 L2413 1632.93" stroke="#22BB00" stroke-width="2.2" fill="none" stroke-linejoin="round"/>
<path d="M286 1792.65 L321.45 1788.91 L356.9 1785.2 L392.35 1781.49 L427.8 1777.8 L463.25 1774.13 L498.7 1770.47 L534.15 1766.82 L569.6 1763.19 L605.05 1759.58 L640.5 1755.97 L675.95 1752.38 L711.4 1748.81 L746.85 1745.25 L782.3 1741.71 L817.75 1738.18 L853.2 1734.66 L888.65 1731.16 L924.1 1727.67 L959.55 1724.2 L995 1720.74 L1030.45 1717.3 L1065.9 1713.87 L1101.35 1710.45 L1136.8 1707.05 L1172.25 1703.66 L1207.7 1700.29 L1243.15 1696.93 L1278.6 1693.59 L1314.05 1690.26 L1349.5 1686.95 L1384.95 1683.65 L1420.4 1680.36 L1455.85 1677.09 L1491.3 1673.84 L1526.75 1670.59 L1562.2 1667.36 L1597.65 1664.15 L1633.1 1660.95 L1668.55 1657.77 L1704 1654.6 L1739.45 1651.44 L1774.9 1648.3 L1810.35 1645.17 L1845.8 1642.06 L1881.25 1638.96 L1916.7 1635.88 L1952.15 1632.81 L1987.6 1629.75 L2023.05 1626.71 L2058.5 1623.69 L2093.95 1620.68 L2129.4 1617.68 L2164.85 1614.7 L2200.3 1611.73 L2235.75 1608.77 L2271.2 1605.83 L2306.65 1602.91 L2342.1 1600 L2377.55 1597.1 L2413 1594.22" stroke="#000000" stroke-width="2.4" fill="none" stroke-linejoin="round"/>
<path d="M286 1796.25 L321.45 1790.63 L356.9 1785 L392.35 1779.36 L427.8 1773.71 L463.25 1768.07 L498.7 1762.41 L534.15 1756.75 L569.6 1751.08 L605.05 1745.41 L640.5 1739.73 L675.95 1734.05 L711.4 1728.36 L746.85 1722.67 L782.3 1716.97 L817.75 1711.26 L853.2 1705.55 L888.65 1699.83 L924.1 1694.11 L959.55 1688.38 L995 1682.64 L1030.45 1676.9 L1065.9 1671.16 L1101.35 1665.4 L1136.8 1659.65 L1172.25 1653.88 L1207.7 1648.11 L1243.15 1642.34 L1278.6 1636.56 L1314.05 1630.77 L1349.5 1624.98 L1384.95 1619.18 L1420.4 1613.38 L1455.85 1607.57 L1491.3 1601.75 L1526.75 1595.93 L1562.2 1590.11 L1597.65 1584.27 L1633.1 1578.44 L1668.55 1572.59 L1704 1566.74 L1739.45 1560.89 L1774.9 1555.03 L1810.35 1549.16 L1845.8 1543.29 L1881.25 1537.41 L1916.7 1531.53 L1952.15 1525.64 L1987.6 1519.74 L2023.05 1513.84 L2058.5 1507.94 L2093.95 1502.02 L2129.4 1496.11 L2164.85 1490.18 L2200.3 1484.25 L2235.75 1478.32 L2271.2 1472.38 L2306.65 1466.43 L2342.1 1460.48 L2377.55 1454.52 L2413 1448.56" stroke="#FF0000" stroke-width="2.4" fill="none" stroke-linejoin="round"/>
<path d="M286 1797.62 L321.45 1786.06 L356.9 1774.47 L392.35 1762.83 L427.8 1751.16 L463.25 1739.44 L498.7 1727.67 L534.15 1715.87 L569.6 1704.02 L605.05 1692.14 L640.5 1680.21 L675.95 1668.23 L711.4 1656.22 L746.85 1644.16 L782.3 1632.06 L817.75 1619.92 L853.2 1607.74 L888.65 1595.52 L924.1 1583.25 L959.55 1570.94 L995 1558.59 L1030.45 1546.2 L1065.9 1533.76 L1101.35 1521.29 L1136.8 1508.77 L1172.25 1496.21 L1207.7 1483.6 L1243.15 1470.96 L1278.6 1458.27 L1314.05 1445.54 L1349.5 1432.77 L1384.95 1419.96 L1420.4 1407.1 L1455.85 1394.2 L1491.3 1381.27 L1526.75 1368.28 L1562.2 1355.26 L1597.65 1342.19 L1633.1 1329.09 L1668.55 1315.94 L1704 1302.75 L1739.45 1289.51 L1774.9 1276.24 L1810.35 1262.92 L1845.8 1249.56 L1881.25 1236.16 L1916.7 1222.71 L1952.15 1209.23 L1987.6 1195.7 L2023.05 1182.13 L2058.5 1168.52 L2093.95 1154.86 L2129.4 1141.17 L2164.85 1127.43 L2200.3 1113.65 L2235.75 1099.82 L2271.2 1085.96 L2306.65 1072.05 L2342.1 1058.1 L2377.55 1044.11 L2413 1030.08" stroke="#00FF00" stroke-width="2.5" fill="none" stroke-linejoin="round"/>
</g>
<rect x="286.0" y="51.1" width="2162.4" height="1745.4" fill="none" stroke="#000" stroke-width="6.4" stroke-linejoin="miter"/>
<path d="M252 1796.5H286.0M269 1699.53H286.0M252 1602.56H286.0M269 1505.59H286.0M252 1408.62H286.0M269 1311.65H286.0M252 1214.68H286.0M269 1117.71H286.0M252 1020.74H286.0M269 923.77H286.0M252 826.8H286.0M269 729.83H286.0M252 632.86H286.0M269 535.89H286.0M252 438.92H286.0M269 341.95H286.0M252 244.98H286.0M269 148.01H286.0M252 51.04H286.0M286 1796.5V1831M463.25 1796.5V1813.5M640.5 1796.5V1831M817.75 1796.5V1813.5M995 1796.5V1831M1172.25 1796.5V1813.5M1349.5 1796.5V1831M1526.75 1796.5V1813.5M1704 1796.5V1831M1881.25 1796.5V1813.5M2058.5 1796.5V1831M2235.75 1796.5V1813.5M2413 1796.5V1831" stroke="#000" stroke-width="6.4" fill="none"/>
<g font-size="73"><text transform="translate(228.9 1819.1) scale(1 1.035)" text-anchor="end">0</text><text transform="translate(228.9 1625.16) scale(1 1.035)" text-anchor="end">2</text><text transform="translate(228.9 1431.22) scale(1 1.035)" text-anchor="end">4</text><text transform="translate(228.9 1237.28) scale(1 1.035)" text-anchor="end">6</text><text transform="translate(228.9 1043.34) scale(1 1.035)" text-anchor="end">8</text><text transform="translate(228.9 849.4) scale(1 1.035)" text-anchor="end">10</text><text transform="translate(228.9 655.46) scale(1 1.035)" text-anchor="end">12</text><text transform="translate(228.9 461.52) scale(1 1.035)" text-anchor="end">14</text><text transform="translate(228.9 267.58) scale(1 1.035)" text-anchor="end">16</text><text transform="translate(228.9 73.64) scale(1 1.035)" text-anchor="end">18</text><text transform="translate(286 1912.3) scale(1 1.035)" text-anchor="middle">0</text><text transform="translate(640.5 1912.3) scale(1 1.035)" text-anchor="middle">50</text><text transform="translate(995 1912.3) scale(1 1.035)" text-anchor="middle">100</text><text transform="translate(1349.5 1912.3) scale(1 1.035)" text-anchor="middle">150</text><text transform="translate(1704 1912.3) scale(1 1.035)" text-anchor="middle">200</text><text transform="translate(2058.5 1912.3) scale(1 1.035)" text-anchor="middle">250</text><text transform="translate(2413 1912.3) scale(1 1.035)" text-anchor="middle">300</text></g>
<text x="1193" y="2064.6" font-size="64">Time(min)</text>
<text transform="translate(83.8 1045.2) rotate(-90)" font-size="74">t/q<tspan font-size="50" dy="19.9">t</tspan><tspan dy="-19.9">(min·g·mg</tspan><tspan font-size="50" dy="-31.3">−1</tspan><tspan dy="31.3" dx="4.1">)</tspan></text>
<g><rect x="403.45" y="131.65" width="38.5" height="38.5" fill="#505050" stroke="#474747" stroke-width="1"/><text transform="translate(524.3 176.2) scale(1 1.025)" font-size="74">20 ppm 20 mg</text><circle cx="422.7" cy="242.24" r="21.3" fill="#FF3C3C"/><text transform="translate(524.3 267.54) scale(1 1.025)" font-size="74">20 ppm 30 mg</text><polygon points="422.7,306.08 446.52,347.33 398.88,347.33" fill="#0066E0" stroke="#0066E0" stroke-width="2.0" stroke-linejoin="round"/><text transform="translate(524.3 358.88) scale(1 1.025)" font-size="74">20 ppm 50 mg</text><polygon points="422.7,452.42 398.88,411.17 446.52,411.17" fill="#00AB69" stroke="#00AB69" stroke-width="2.0" stroke-linejoin="round"/><text transform="translate(524.3 450.22) scale(1 1.025)" font-size="74">20 ppm 100 mg</text><polygon points="422.7,490.76 448.2,516.26 422.7,541.76 397.2,516.26" fill="#C078E0" stroke="#C078E0" stroke-width="1.8" stroke-linejoin="round"/><text transform="translate(524.3 541.56) scale(1 1.025)" font-size="74">20 ppm 200 mg</text><polygon points="395.2,607.6 436.45,583.78 436.45,631.42" fill="#DB9900" stroke="#DB9900" stroke-width="2.0" stroke-linejoin="round"/><text transform="translate(524.3 632.9) scale(1 1.025)" font-size="74">30 ppm 20 mg</text><polygon points="450.2,698.94 408.95,722.76 408.95,675.12" fill="#00CCD2" stroke="#00CCD2" stroke-width="2.0" stroke-linejoin="round"/><text transform="translate(524.3 724.24) scale(1 1.025)" font-size="74">30 ppm 30 mg</text><polygon points="422.7,766.98 442.88,778.63 442.88,801.93 422.7,813.58 402.52,801.93 402.52,778.63" fill="#8B4B4B"/><text transform="translate(524.3 815.58) scale(1 1.025)" font-size="74">30 ppm 50 mg</text><polygon points="422.7,858.02 429.17,872.72 445.14,874.33 433.16,885.02 436.57,900.71 422.7,892.62 408.83,900.71 412.24,885.02 400.26,874.33 416.23,872.72" fill="#8F8F00" stroke="#8F8F00" stroke-width="1.6" stroke-linejoin="round"/><text transform="translate(524.3 906.92) scale(1 1.025)" font-size="74">30 ppm 100 mg</text><polygon points="422.7,948.46 446,965.39 437.1,992.78 408.3,992.78 399.4,965.39" fill="#FF6600"/><text transform="translate(524.3 998.26) scale(1 1.025)" font-size="74">30 ppm 200 mg</text><g><circle cx="1207" cy="159.6" r="21.2" fill="#419AD2"/><circle cx="1200.6" cy="153.2" r="10.6" fill="#9CC7EA"/><circle cx="1200.6" cy="153.2" r="8.6" fill="#B2D5F1"/><circle cx="1200.6" cy="153.2" r="6.8" fill="#C8E2F8"/><circle cx="1200.6" cy="153.2" r="5.0" fill="#E2F0FB"/><circle cx="1200.6" cy="153.2" r="3.5" fill="#FFFFFF"/></g><text transform="translate(1310.8 184.9) scale(1 1.025)" font-size="74">50 ppm 20 mg</text><path d="M1187.2 250.9H1226.8M1207 231.1V270.7" stroke="#22BB00" stroke-width="3" stroke-linecap="round" fill="none"/><text transform="translate(1310.8 276.2) scale(1 1.025)" font-size="74">50 ppm 30 mg</text><path d="M1184.6 319.8L1229.4 364.6M1184.6 364.6L1229.4 319.8" stroke="#505050" stroke-width="3" stroke-linecap="round" fill="none"/><text transform="translate(1310.8 367.5) scale(1 1.025)" font-size="74">50 ppm 50 mg</text><path d="M1184.6 411.1L1229.4 455.9M1184.6 455.9L1229.4 411.1M1184.6 433.5H1229.4M1207 411.1V455.9" stroke="#FF3C3C" stroke-width="2.6" stroke-linecap="round" fill="none"/><text transform="translate(1310.8 458.8) scale(1 1.025)" font-size="74">50 ppm 100 mg</text><path d="M1187.8 524.8H1226.2" stroke="#0060E0" stroke-width="3.2" stroke-linecap="round" fill="none"/><text transform="translate(1310.8 550.1) scale(1 1.025)" font-size="74">50 ppm 200 mg</text></g>
</svg></body></html>
